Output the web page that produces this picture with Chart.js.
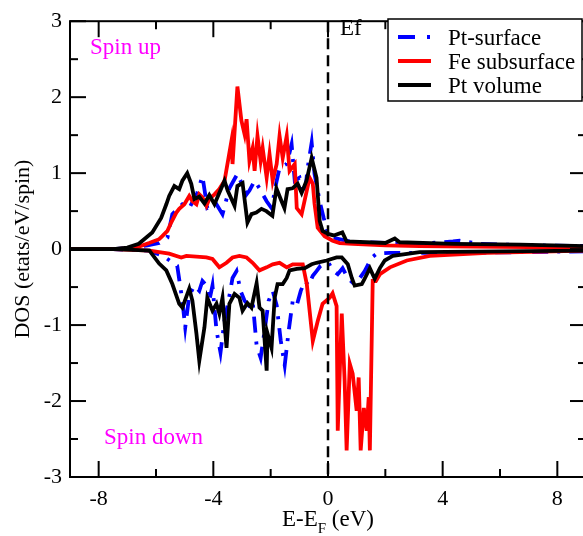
<!DOCTYPE html>
<html>
<head>
<meta charset="utf-8">
<script src="https://cdn.jsdelivr.net/npm/chart.js@4.4.0/dist/chart.umd.min.js"></script>
<style>
  html, body { margin: 0; padding: 0; background: #fff; overflow: hidden; }
  #wrap { width: 583px; height: 536px; overflow: hidden; }
</style>
</head>
<body>
<div id="wrap"><canvas id="dos" width="590" height="536"></canvas></div>
<script>
// energies (eV, relative to Ef) and DOS values
const ptSurfUpE   = [-9, -7.5, -6.8, -6.3, -5.89, -5.6, -5.43, -5.08, -4.84, -4.56, -4.38, -4.21, -3.89, -3.68, -3.44, -3.16, -2.84, -2.74, -2.56, -2.39, -2.14, -1.97, -1.79, -1.69, -1.44, -1.27, -1.16, -0.99, -0.81, -0.71, -0.57, -0.47, -0.29, -0.15, 0, 0.27, 0.76, 2.0, 3.2, 4.36, 4.6, 5.3, 7, 9];
const ptSurfUpDos = [0, 0, 0.02, 0.05, 0.08, 0.15, 0.46, 0.59, 0.54, 0.74, 0.96, 0.54, 0.59, 0.46, 0.8, 0.99, 0.72, 0.77, 0.9, 0.8, 0.63, 0.54, 0.9, 1.07, 1.12, 1.38, 0.9, 0.94, 0.72, 1.07, 1.4, 0.99, 0.63, 0.41, 0.2, 0.14, 0.1, 0.08, 0.07, 0.1, 0.11, 0.07, 0.05, 0.04];

const ptSurfDnE   = [-9, -7.5, -6.8, -6.23, -5.71, -5.26, -5.08, -4.98, -4.84, -4.66, -4.49, -4.38, -4.24, -4.14, -4.03, -3.89, -3.75, -3.61, -3.47, -3.33, -3.19, -3.05, -2.91, -2.77, -2.63, -2.49, -2.35, -2.21, -2.07, -1.93, -1.79, -1.65, -1.51, -1.37, -1.23, -1.09, -0.95, -0.81, -0.67, -0.53, -0.4, -0.26, -0.12, 0.02, 0.16, 0.34, 0.51, 0.69, 0.86, 1.11, 1.28, 1.53, 1.7, 2.15, 4.36, 9];
const ptSurfDnDos = [0, 0, -0.01, -0.02, -0.1, -0.22, -0.68, -1.03, -0.61, -0.48, -0.55, -0.42, -0.48, -0.68, -0.48, -1.07, -1.36, -0.94, -0.68, -0.38, -0.29, -0.55, -0.68, -0.74, -0.68, -1.27, -1.43, -1.07, -0.68, -0.55, -0.74, -1.2, -1.53, -1.07, -0.68, -0.74, -0.55, -0.42, -0.48, -0.35, -0.29, -0.22, -0.19, -0.18, -0.28, -0.33, -0.25, -0.38, -0.44, -0.38, -0.29, -0.11, -0.06, -0.05, -0.05, -0.03];

const feSubUpE    = [-9, -7.5, -7, -6.69, -6.24, -5.89, -5.78, -5.6, -5.47, -5.29, -5.19, -5.01, -4.84, -4.73, -4.59, -4.49, -4.38, -4.24, -4.14, -3.96, -3.79, -3.61, -3.47, -3.37, -3.33, -3.16, -3.02, -2.91, -2.84, -2.74, -2.63, -2.56, -2.46, -2.35, -2.28, -2.14, -2.04, -1.93, -1.79, -1.69, -1.58, -1.44, -1.34, -1.16, -1.09, -0.92, -0.74, -0.64, -0.53, -0.47, -0.36, -0.12, 0.16, 0.41, 0.86, 2, 3.2, 6, 9];
const feSubUpDos  = [0, 0, 0.01, 0.02, 0.08, 0.13, 0.17, 0.24, 0.35, 0.48, 0.53, 0.59, 0.7, 0.63, 0.59, 0.72, 0.68, 0.57, 0.66, 0.72, 0.79, 0.9, 1.2, 1.42, 1.12, 2.14, 1.69, 1.51, 1.71, 1.16, 1.33, 1.03, 1.49, 1.16, 1.33, 0.94, 1.25, 0.9, 1.12, 1.49, 1.2, 1.49, 1.03, 1.12, 0.54, 0.46, 0.77, 0.94, 0.86, 0.6, 0.28, 0.17, 0.11, 0.08, 0.07, 0.05, 0.04, 0.03, 0.02];

const feSubDnE    = [-9, -7.5, -6.8, -6.23, -5.54, -5.12, -4.94, -4.24, -4.03, -3.79, -3.54, -3.33, -3.09, -2.84, -2.63, -2.39, -2.14, -1.93, -1.69, -1.44, -1.23, -0.88, -0.74, -0.53, -0.36, -0.19, 0.06, 0.16, 0.3, 0.34, 0.48, 0.58, 0.65, 0.76, 0.86, 1.0, 1.07, 1.14, 1.25, 1.35, 1.42, 1.46, 1.56, 1.67, 1.81, 2.16, 2.75, 3.55, 5.55, 9];
const feSubDnDos  = [0, 0, -0.01, -0.02, -0.06, -0.11, -0.09, -0.11, -0.13, -0.24, -0.18, -0.11, -0.09, -0.11, -0.18, -0.28, -0.24, -0.2, -0.18, -0.24, -0.2, -0.2, -0.46, -1.21, -0.95, -0.72, -0.64, -0.58, -0.75, -2.39, -0.85, -1.73, -2.65, -1.51, -1.64, -2.13, -1.69, -2.65, -2.09, -2.39, -1.95, -2.65, -0.42, -0.42, -0.33, -0.24, -0.15, -0.09, -0.05, -0.02];

const ptVolUpE    = [-9, -7.5, -7, -6.6, -6.13, -5.82, -5.64, -5.54, -5.36, -5.19, -5.08, -4.91, -4.77, -4.66, -4.49, -4.31, -4.14, -3.96, -3.61, -3.5, -3.26, -3.16, -2.98, -2.81, -2.67, -2.5, -2.32, -2.15, -1.94, -1.8, -1.62, -1.52, -1.41, -1.24, -1.06, -0.92, -0.75, -0.57, -0.4, -0.29, -0.19, 0, 0.2, 0.5, 0.65, 2.0, 2.33, 2.5, 4.4, 6.7, 9];
const ptVolUpDos  = [0, 0, 0.02, 0.07, 0.22, 0.41, 0.59, 0.7, 0.83, 0.79, 0.9, 1.0, 0.86, 0.66, 0.69, 0.6, 0.71, 0.59, 0.9, 0.77, 0.57, 0.83, 0.87, 0.35, 0.46, 0.48, 0.53, 0.5, 0.44, 0.8, 0.63, 0.54, 0.79, 0.8, 0.86, 0.74, 0.9, 1.2, 0.94, 0.37, 0.24, 0.2, 0.18, 0.22, 0.1, 0.08, 0.14, 0.09, 0.07, 0.06, 0.04];

const ptVolDnE    = [-9, -7.5, -6.8, -6.23, -5.89, -5.64, -5.43, -5.19, -5.08, -4.84, -4.73, -4.59, -4.49, -4.31, -4.21, -4.03, -3.89, -3.79, -3.68, -3.54, -3.44, -3.26, -3.09, -2.98, -2.81, -2.67, -2.49, -2.39, -2.28, -2.14, -2.11, -1.97, -1.86, -1.76, -1.58, -1.44, -1.34, -1.09, -0.81, -0.57, -0.4, -0.05, 0.3, 0.48, 0.69, 0.83, 0.93, 1.18, 1.28, 1.46, 1.63, 1.81, 1.98, 2.26, 3.2, 6, 9];
const ptVolDnDos  = [0, 0, -0.01, -0.02, -0.19, -0.28, -0.46, -0.72, -0.77, -0.52, -0.68, -1.11, -1.47, -1.03, -0.64, -0.81, -0.72, -0.85, -0.64, -1.3, -0.72, -0.59, -0.64, -0.81, -0.71, -0.77, -0.45, -0.77, -0.81, -1.6, -1.11, -1.3, -0.64, -0.46, -0.46, -0.38, -0.28, -0.26, -0.25, -0.2, -0.18, -0.15, -0.11, -0.11, -0.2, -0.38, -0.48, -0.46, -0.39, -0.25, -0.39, -0.25, -0.15, -0.09, -0.04, -0.03, -0.02];

const seriesNames = ['Pt-surface', 'Fe subsurface', 'Pt volume'];
const xMajorTicks = [-8, -4, 0, 4, 8];
const xMinorTicks = [-6, -2, 2, 6];
const yMajorTicks = [-3, -2, -1, 0, 1, 2, 3];
const yMinorTicks = [-2.5, -1.5, -0.5, 0.5, 1.5, 2.5];

const SERIF = '"Liberation Serif", "DejaVu Serif", serif';
const BLUE = '#0000ff', RED = '#ff0000', BLACK = '#000000', MAGENTA = '#ff00ff';
const BLUE_DASH = [16, 9, 3, 9];

const pts = (es, ds) => es.map((e, i) => ({ x: e, y: ds[i] }));

function line(ctx, x1, y1, x2, y2) {
  ctx.beginPath(); ctx.moveTo(x1, y1); ctx.lineTo(x2, y2); ctx.stroke();
}

// frame with inward ticks, Ef marker, texts and boxed legend
const decor = {
  id: 'decor',
  afterDatasetsDraw(chart) {
    const { ctx, chartArea: a, scales: { x } } = chart;
    const px = x.getPixelForValue(0);
    ctx.save();
    ctx.strokeStyle = BLACK; ctx.lineWidth = 2.5; ctx.setLineDash([11, 6]);
    line(ctx, px, a.top, px, a.bottom);
    ctx.restore();
  },
  afterDraw(chart) {
    const { ctx, chartArea: a, scales: { x, y } } = chart;
    ctx.save();
    ctx.strokeStyle = BLACK; ctx.lineWidth = 2;
    ctx.strokeRect(a.left, a.top, a.right - a.left, a.bottom - a.top);
    xMajorTicks.forEach(v => { const p = x.getPixelForValue(v); line(ctx, p, a.bottom, p, a.bottom - 16); line(ctx, p, a.top, p, a.top + 16); });
    xMinorTicks.forEach(v => { const p = x.getPixelForValue(v); line(ctx, p, a.bottom, p, a.bottom - 8); line(ctx, p, a.top, p, a.top + 8); });
    yMajorTicks.forEach(v => { const p = y.getPixelForValue(v); line(ctx, a.left, p, a.left + 16, p); line(ctx, a.right, p, a.right - 16, p); });
    yMinorTicks.forEach(v => { const p = y.getPixelForValue(v); line(ctx, a.left, p, a.left + 8, p); line(ctx, a.right, p, a.right - 8, p); });

    const big = '23px ' + SERIF, small = '15px ' + SERIF;

    // annotations
    ctx.textBaseline = 'alphabetic'; ctx.textAlign = 'left';
    ctx.font = big;
    ctx.fillStyle = MAGENTA;
    ctx.fillText('Spin up', 90, 54);
    ctx.fillText('Spin down', 104, 444);
    ctx.fillStyle = BLACK;
    ctx.fillText('Ef', 340, 35);

    // x title with subscript
    ctx.font = big; const w1 = ctx.measureText('E-E').width;
    ctx.font = small; const w2 = ctx.measureText('F').width;
    ctx.font = big; const w3 = ctx.measureText(' (eV)').width;
    let tx = x.getPixelForValue(0) - (w1 + w2 + w3) / 2;
    ctx.fillText('E-E', tx, 526); tx += w1;
    ctx.font = small; ctx.fillText('F', tx, 533); tx += w2;
    ctx.font = big; ctx.fillText(' (eV)', tx, 526);

    // y title
    ctx.save();
    ctx.translate(29, (a.top + a.bottom) / 2);
    ctx.rotate(-Math.PI / 2);
    ctx.textAlign = 'center';
    ctx.font = '22px ' + SERIF;
    ctx.fillText('DOS (etats/eV/spin)', 0, 0);
    ctx.restore();

    // legend
    ctx.fillStyle = '#fff';
    ctx.fillRect(388, 19, 194, 82);
    ctx.lineWidth = 1.5; ctx.strokeStyle = BLACK;
    ctx.strokeRect(388, 19, 194, 82);
    const colors = [BLUE, RED, BLACK];
    seriesNames.forEach((name, i) => {
      const ly = 37 + i * 24;
      ctx.strokeStyle = colors[i]; ctx.lineWidth = 4;
      ctx.setLineDash(i === 0 ? [17, 12, 3, 12] : []);
      line(ctx, 398, ly, 431, ly);
      ctx.setLineDash([]);
      ctx.fillStyle = BLACK; ctx.font = big;
      ctx.fillText(name, 448, ly + 8);
    });
    ctx.restore();
  }
};

const ds = (label, data, color, order, dash) => ({
  label, data, borderColor: color, backgroundColor: color,
  borderWidth: 3.8, borderDash: dash || [], pointRadius: 0, tension: 0, order,
  borderJoinStyle: 'miter', fill: false
});

new Chart(document.getElementById('dos'), {
  type: 'line',
  data: {
    datasets: [
      ds(seriesNames[2], pts(ptVolUpE, ptVolUpDos), BLACK, 1),
      ds(seriesNames[2] + ' dn', pts(ptVolDnE, ptVolDnDos), BLACK, 1),
      ds(seriesNames[1], pts(feSubUpE, feSubUpDos), RED, 2),
      ds(seriesNames[1] + ' dn', pts(feSubDnE, feSubDnDos), RED, 2),
      ds(seriesNames[0], pts(ptSurfUpE, ptSurfUpDos), BLUE, 3, BLUE_DASH),
      ds(seriesNames[0] + ' dn', pts(ptSurfDnE, ptSurfDnDos), BLUE, 3, BLUE_DASH)
    ]
  },
  options: {
    responsive: false, animation: false, devicePixelRatio: 1,
    layout: { padding: { top: 20, right: 4, left: 0, bottom: 0 } },
    plugins: { legend: { display: false }, tooltip: { enabled: false } },
    scales: {
      x: {
        type: 'linear', min: -9, max: 9,
        afterFit: s => { s.height = 59; },
        afterBuildTicks: s => { s.ticks = xMajorTicks.map(v => ({ value: v })); },
        grid: { display: false, drawTicks: false },
        border: { display: false },
        ticks: { color: BLACK, padding: 9, maxRotation: 0, font: { family: SERIF, size: 22 }, callback: v => String(v) }
      },
      y: {
        type: 'linear', min: -3, max: 3,
        afterFit: s => { s.width = 70; },
        afterBuildTicks: s => { s.ticks = yMajorTicks.map(v => ({ value: v })); },
        grid: { display: false, drawTicks: false },
        border: { display: false },
        ticks: { color: BLACK, padding: 8, font: { family: SERIF, size: 22 }, callback: v => String(v) }
      }
    }
  },
  plugins: [decor]
});
</script>
</body>
</html>
